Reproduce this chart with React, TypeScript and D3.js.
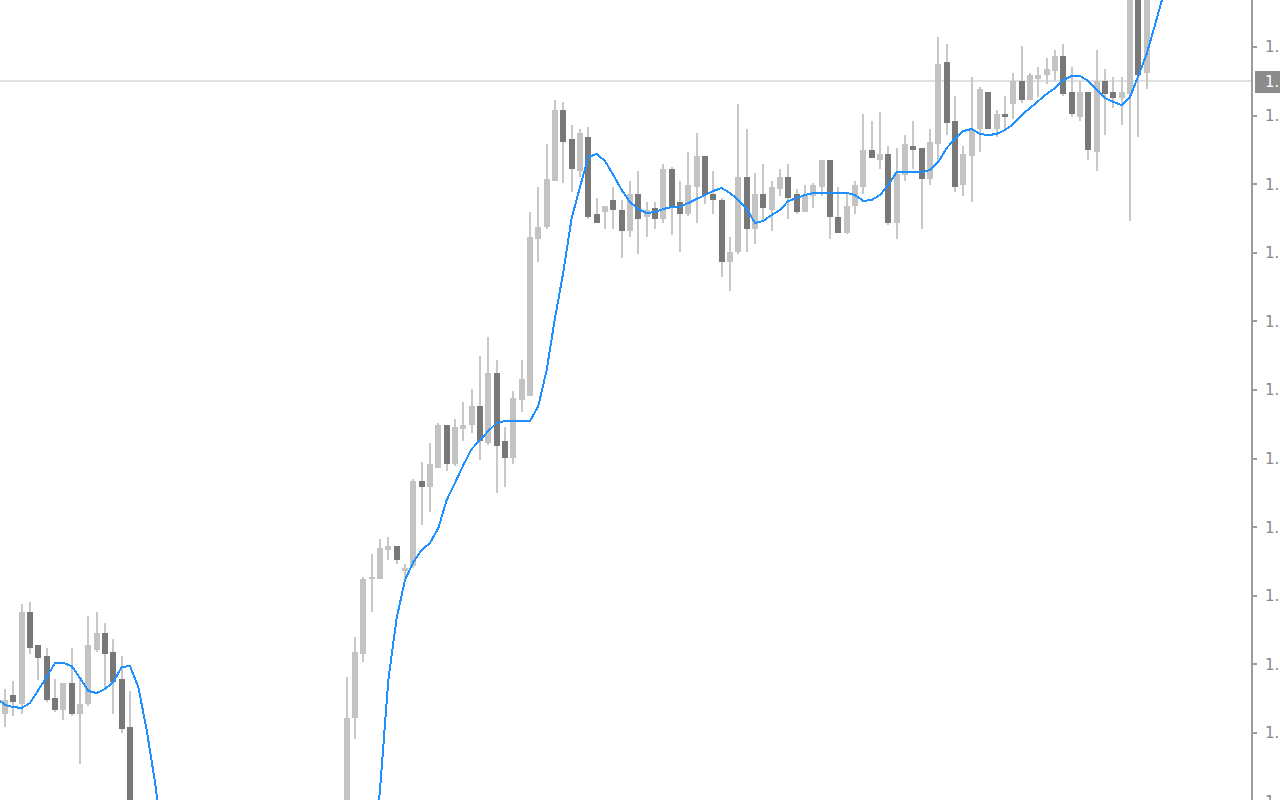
import React, { useEffect, useRef } from 'react'
import * as d3 from 'd3'

// OHLC per bar, oldest first (first bar sits just left of the visible area)
const opens = [
  1.1297, 1.1286, 1.1305, 1.1296, 1.1388, 1.1355, 1.1344, 1.1302, 1.1290, 1.1317,
  1.1286, 1.1296, 1.1350, 1.1367, 1.1348, 1.1321, 1.1273, 1.1170, 1.1128, 1.1095,
  1.1110, 1.1070, 1.1085, 1.1055, 1.1075, 1.1060, 1.1080, 1.1065, 1.1090, 1.1075,
  1.1100, 1.1085, 1.1110, 1.1095, 1.1120, 1.1105, 1.1130, 1.1115, 1.1140, 1.1125,
  1.1150, 1.1140, 1.1160, 1.1282, 1.1346, 1.1421, 1.1421, 1.1450, 1.1454, 1.1429,
  1.1434, 1.1519, 1.1513, 1.1532, 1.1575, 1.1536, 1.1571, 1.1575, 1.1594, 1.1557,
  1.1627, 1.1559, 1.1542, 1.1600, 1.1604, 1.1761, 1.1773, 1.1819, 1.1890, 1.1861,
  1.1829, 1.1863, 1.1786, 1.1788, 1.1800, 1.1790, 1.1769, 1.1806, 1.1783, 1.1792,
  1.1781, 1.1831, 1.1798, 1.1786, 1.1813, 1.1844, 1.1806, 1.1800, 1.1738, 1.1748,
  1.1823, 1.1771, 1.1806, 1.1790, 1.1811, 1.1823, 1.1806, 1.1788, 1.1804, 1.1813,
  1.1840, 1.1783, 1.1767, 1.1794, 1.1813, 1.1850, 1.1840, 1.1846, 1.1777, 1.1825,
  1.1854, 1.1852, 1.1821, 1.1856, 1.1938, 1.1879, 1.1815, 1.1844, 1.1871, 1.1908,
  1.1871, 1.1886, 1.1896, 1.1919, 1.1900, 1.1921, 1.1925, 1.1929, 1.1944, 1.1908,
  1.1883, 1.1908, 1.1848, 1.1919, 1.1908, 1.1902, 1.1906, 1.2030, 1.1927, 1.2020,
  1.2070,
]

const highs = [
  1.1308, 1.1311, 1.1319, 1.1396, 1.1398, 1.1355, 1.1352, 1.1321, 1.1317, 1.1352,
  1.1323, 1.1384, 1.1388, 1.1377, 1.1361, 1.1344, 1.1309, 1.1182, 1.1140, 1.1130,
  1.1120, 1.1100, 1.1095, 1.1085, 1.1090, 1.1095, 1.1100, 1.1105, 1.1110, 1.1115,
  1.1120, 1.1130, 1.1125, 1.1135, 1.1140, 1.1145, 1.1150, 1.1155, 1.1160, 1.1165,
  1.1170, 1.1180, 1.1323, 1.1363, 1.1423, 1.1446, 1.1461, 1.1463, 1.1454, 1.1436,
  1.1521, 1.1538, 1.1557, 1.1577, 1.1575, 1.1581, 1.1598, 1.1611, 1.1644, 1.1663,
  1.1640, 1.1573, 1.1609, 1.1640, 1.1788, 1.1813, 1.1856, 1.1900, 1.1898, 1.1875,
  1.1871, 1.1873, 1.1802, 1.1794, 1.1813, 1.1800, 1.1819, 1.1829, 1.1798, 1.1798,
  1.1836, 1.1833, 1.1819, 1.1848, 1.1867, 1.1844, 1.1829, 1.1802, 1.1763, 1.1896,
  1.1871, 1.1827, 1.1836, 1.1819, 1.1831, 1.1836, 1.1811, 1.1815, 1.1817, 1.1840,
  1.1840, 1.1813, 1.1806, 1.1819, 1.1886, 1.1879, 1.1888, 1.1854, 1.1852, 1.1865,
  1.1879, 1.1852, 1.1871, 1.1963, 1.1956, 1.1904, 1.1854, 1.1923, 1.1913, 1.1908,
  1.1890, 1.1904, 1.1927, 1.1954, 1.1927, 1.1933, 1.1942, 1.1950, 1.1956, 1.1933,
  1.1919, 1.1908, 1.1950, 1.1931, 1.1923, 1.1923, 1.2050, 1.2045, 1.2035, 1.2080,
  1.2120,
]

const lows = [
  1.1288, 1.1273, 1.1284, 1.1286, 1.1346, 1.1320, 1.1298, 1.1288, 1.1280, 1.1284,
  1.1236, 1.1294, 1.1348, 1.1311, 1.1286, 1.1267, 1.1160, 1.1115, 1.1080, 1.1070,
  1.1055, 1.1050, 1.1040, 1.1035, 1.1045, 1.1050, 1.1055, 1.1060, 1.1065, 1.1070,
  1.1075, 1.1080, 1.1085, 1.1090, 1.1095, 1.1100, 1.1105, 1.1110, 1.1115, 1.1120,
  1.1130, 1.1130, 1.1150, 1.1261, 1.1338, 1.1388, 1.1421, 1.1440, 1.1436, 1.1419,
  1.1432, 1.1475, 1.1488, 1.1532, 1.1529, 1.1534, 1.1559, 1.1567, 1.1540, 1.1555,
  1.1507, 1.1513, 1.1536, 1.1588, 1.1604, 1.1738, 1.1771, 1.1819, 1.1817, 1.1808,
  1.1823, 1.1781, 1.1777, 1.1771, 1.1771, 1.1742, 1.1763, 1.1746, 1.1763, 1.1771,
  1.1777, 1.1765, 1.1748, 1.1784, 1.1777, 1.1796, 1.1786, 1.1723, 1.1709, 1.1746,
  1.1748, 1.1756, 1.1780, 1.1769, 1.1804, 1.1781, 1.1786, 1.1788, 1.1792, 1.1804,
  1.1761, 1.1767, 1.1766, 1.1786, 1.1806, 1.1842, 1.1831, 1.1775, 1.1761, 1.1819,
  1.1831, 1.1771, 1.1815, 1.1838, 1.1865, 1.1808, 1.1804, 1.1798, 1.1848, 1.1871,
  1.1863, 1.1870, 1.1881, 1.1897, 1.1900, 1.1903, 1.1916, 1.1919, 1.1904, 1.1883,
  1.1879, 1.1840, 1.1829, 1.1865, 1.1892, 1.1875, 1.1779, 1.1863, 1.1911, 1.2010,
  1.2060,
]

const closes = [
  1.1300, 1.1300, 1.1298, 1.1388, 1.1352, 1.1342, 1.1300, 1.1290, 1.1317, 1.1286,
  1.1296, 1.1355, 1.1367, 1.1346, 1.1318, 1.1271, 1.1170, 1.1128, 1.1095, 1.1110,
  1.1070, 1.1085, 1.1055, 1.1075, 1.1060, 1.1080, 1.1065, 1.1090, 1.1075, 1.1100,
  1.1085, 1.1110, 1.1095, 1.1120, 1.1105, 1.1130, 1.1115, 1.1140, 1.1125, 1.1150,
  1.1140, 1.1160, 1.1282, 1.1348, 1.1421, 1.1423, 1.1452, 1.1454, 1.1440, 1.1432,
  1.1519, 1.1513, 1.1536, 1.1575, 1.1536, 1.1573, 1.1575, 1.1594, 1.1559, 1.1627,
  1.1554, 1.1542, 1.1602, 1.1621, 1.1763, 1.1773, 1.1821, 1.1890, 1.1858, 1.1831,
  1.1867, 1.1783, 1.1777, 1.1794, 1.1790, 1.1769, 1.1806, 1.1781, 1.1790, 1.1781,
  1.1831, 1.1794, 1.1786, 1.1815, 1.1844, 1.1805, 1.1800, 1.1738, 1.1748, 1.1823,
  1.1771, 1.1806, 1.1792, 1.1813, 1.1823, 1.1802, 1.1788, 1.1805, 1.1815, 1.1840,
  1.1783, 1.1767, 1.1794, 1.1815, 1.1850, 1.1842, 1.1846, 1.1777, 1.1826, 1.1856,
  1.1850, 1.1821, 1.1858, 1.1936, 1.1877, 1.1813, 1.1846, 1.1871, 1.1911, 1.1871,
  1.1886, 1.1883, 1.1919, 1.1900, 1.1925, 1.1925, 1.1931, 1.1944, 1.1906, 1.1886,
  1.1908, 1.1850, 1.1919, 1.1906, 1.1902, 1.1908, 1.2040, 1.1925, 1.2020, 1.2070,
  1.2110,
]

// smoothed moving average, one value per bar
const maValues = [
  1.1302, 1.1295, 1.1293, 1.1292, 1.1297, 1.1310, 1.1323, 1.1337, 1.1337, 1.1334,
  1.1322, 1.1309, 1.1307, 1.1311, 1.1318, 1.1333, 1.1334, 1.1313, 1.1270, 1.1218,
  1.1150, 1.1105, 1.1075, 1.1060, 1.1052, 1.1050, 1.1052, 1.1056, 1.1062, 1.1070,
  1.1078, 1.1085, 1.1092, 1.1098, 1.1104, 1.1110, 1.1115, 1.1120, 1.1124, 1.1125,
  1.1115, 1.1100, 1.1085, 1.1080, 1.1095, 1.1125, 1.1210, 1.1320, 1.1382, 1.1420,
  1.1438, 1.1450, 1.1457, 1.1472, 1.1500, 1.1517, 1.1535, 1.1551, 1.1560, 1.1569,
  1.1577, 1.1579, 1.1579, 1.1579, 1.1579, 1.1594, 1.1630, 1.1682, 1.1728, 1.1782,
  1.1813, 1.1843, 1.1846, 1.1839, 1.1825, 1.1810, 1.1798, 1.1791, 1.1787, 1.1788,
  1.1791, 1.1793, 1.1793, 1.1797, 1.1801, 1.1805, 1.1809, 1.1812, 1.1807, 1.1800,
  1.1791, 1.1777, 1.1779, 1.1785, 1.1790, 1.1799, 1.1802, 1.1805, 1.1807, 1.1807,
  1.1807, 1.1807, 1.1807, 1.1805, 1.1799, 1.1800, 1.1805, 1.1815, 1.1828, 1.1828,
  1.1828, 1.1828, 1.1830, 1.1838, 1.1852, 1.1861, 1.1869, 1.1871, 1.1866, 1.1865,
  1.1866, 1.1870, 1.1876, 1.1885, 1.1892, 1.1899, 1.1906, 1.1912, 1.1920, 1.1924,
  1.1924, 1.1919, 1.1910, 1.1902, 1.1898, 1.1895, 1.1903, 1.1924, 1.1946, 1.1975,
  1.2005,
]

const priceTicks = [1.1953, 1.18844, 1.18158, 1.17472, 1.16786, 1.161, 1.15414, 1.14728, 1.14042, 1.13356, 1.1267, 1.11984]
const currentPrice = 1.1919

const WIDTH = 1280
const HEIGHT = 800
const AXIS_X = 1251
const BAR_SLOTS = 150

export default function App() {
  const svgRef = useRef<SVGSVGElement>(null)

  useEffect(() => {
    if (!svgRef.current) return
    const svg = d3.select(svgRef.current)
    svg.selectAll('*').remove()

    const x = d3.scaleLinear().domain([0, BAR_SLOTS]).range([-10 / 3, 1250 - 10 / 3])
    const y = d3.scaleLinear().domain([1.12, 1.2]).range([HEIGHT, 0])

    svg.append('rect').attr('width', WIDTH).attr('height', HEIGHT).attr('fill', '#ffffff')

    svg.append('defs').append('clipPath').attr('id', 'plot')
      .append('rect').attr('width', AXIS_X).attr('height', HEIGHT)

    const plot = svg.append('g').attr('clip-path', 'url(#plot)')

    // current price line
    plot.append('line')
      .attr('x1', 0).attr('x2', AXIS_X)
      .attr('y1', y(currentPrice)).attr('y2', y(currentPrice))
      .attr('stroke', '#e0e0e0').attr('stroke-width', 2)

    const bars = d3.range(opens.length).map(i => ({
      i, o: opens[i], h: highs[i], l: lows[i], c: closes[i],
    }))

    const g = plot.append('g').attr('shape-rendering', 'crispEdges')

    // wicks
    g.selectAll('.wick')
      .data(bars)
      .enter().append('rect')
      .attr('class', 'wick')
      .attr('x', d => x(d.i) - 1)
      .attr('width', 2)
      .attr('y', d => y(d.h))
      .attr('height', d => Math.max(1, y(d.l) - y(d.h)))
      .attr('fill', '#c8c8c8')

    // bodies
    g.selectAll('.body')
      .data(bars)
      .enter().append('rect')
      .attr('class', 'body')
      .attr('x', d => x(d.i) - 3)
      .attr('width', 6)
      .attr('y', d => y(Math.max(d.o, d.c)))
      .attr('height', d => Math.max(2, Math.abs(y(d.o) - y(d.c))))
      .attr('fill', d => d.c >= d.o ? '#c3c3c3' : '#787878')

    // moving average
    const line = d3.line<number>()
      .x((d, i) => x(i))
      .y(d => y(d))

    plot.append('path')
      .datum(maValues)
      .attr('d', line)
      .attr('fill', 'none')
      .attr('stroke', '#1e90ff')
      .attr('stroke-width', 2)
      .attr('shape-rendering', 'crispEdges')

    // price axis
    svg.append('rect')
      .attr('x', AXIS_X).attr('y', 0)
      .attr('width', 2).attr('height', HEIGHT)
      .attr('fill', '#9c9c9c')

    const axis = svg.append('g')
    axis.selectAll('.tick')
      .data(priceTicks)
      .enter().append('rect')
      .attr('x', AXIS_X + 2).attr('width', 4)
      .attr('y', d => Math.round(y(d)) - 1).attr('height', 2)
      .attr('fill', '#9c9c9c')

    axis.selectAll('.label')
      .data(priceTicks)
      .enter().append('text')
      .attr('x', 1265)
      .attr('y', d => y(d))
      .attr('dy', '0.36em')
      .style('font-family', 'Tahoma, "DejaVu Sans", sans-serif')
      .style('font-size', '15px')
      .style('fill', '#8a8a8a')
      .text(d => d.toFixed(5))

    // current price tag
    svg.append('rect')
      .attr('x', 1255).attr('y', y(currentPrice) - 10)
      .attr('width', 25).attr('height', 22)
      .attr('fill', '#8c8c8c')
    svg.append('text')
      .attr('x', 1265)
      .attr('y', y(currentPrice) + 1)
      .attr('dy', '0.36em')
      .style('font-family', 'Tahoma, "DejaVu Sans", sans-serif')
      .style('font-size', '15px')
      .style('fill', '#ffffff')
      .text(currentPrice.toFixed(5))
  }, [])

  return (
    <>
      <style>{'body{margin:0;overflow:hidden;background:#fff}'}</style>
      <svg ref={svgRef} width={WIDTH} height={HEIGHT} style={{ display: 'block' }} />
    </>
  )
}
